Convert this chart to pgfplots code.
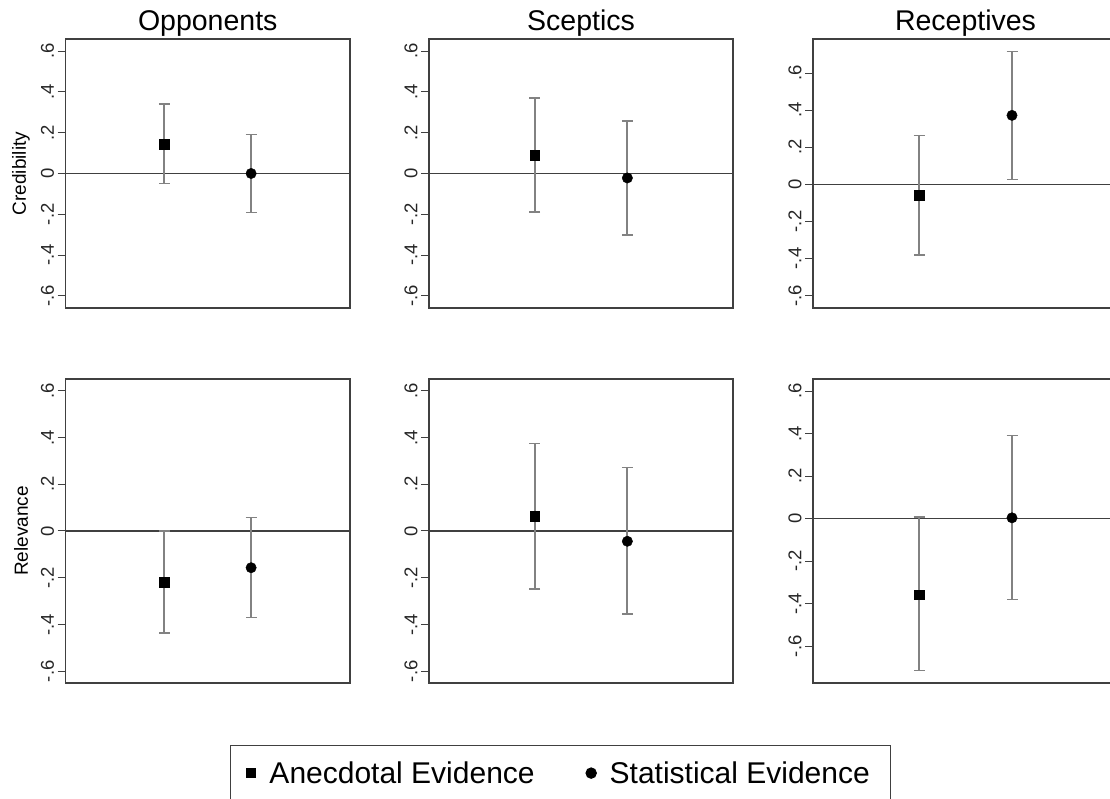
\documentclass[border=0pt]{standalone}
\usepackage{fontspec}
\setmainfont{Liberation Sans}
\usepackage{pgfplots}
\pgfplotsset{compat=1.18}
\definecolor{framec}{RGB}{64,64,64}
\definecolor{barc}{RGB}{130,130,130}

\pgfplotsset{
  panel/.style={
    scale only axis,
    xmin=-0.14, xmax=3.14,
    xtick=\empty,
    ytick={-0.6,-0.4,-0.2,0,0.2,0.4,0.6},
    yticklabels={-.6,-.4,-.2,0,.2,.4,.6},
    ytick pos=left,
    tick align=outside,
    major tick length=8pt,
    tick style={framec, line width=1pt},
    axis line style={framec, line width=1.4pt},
    yticklabel style={font=\fontsize{18.5}{19}\selectfont, rotate=90, anchor=south, text=black!85},
    title style={font=\fontsize{28.5}{30}\selectfont, at={(0.5,1)}, anchor=base, yshift=2.5pt},
    ylabel style={font=\fontsize{19}{20}\selectfont, at={(axis description cs:-0.1564,0.5)}, anchor=center},
  },
  anec/.style={forget plot, only marks, mark=square*, mark size=4.8pt, black,
    error bars/y dir=both, error bars/y explicit,
    error bars/error bar style={barc, line width=1.8pt},
    error bars/error mark options={barc, line width=1.6pt, mark size=5.5pt, rotate=90}},
  stat/.style={forget plot, only marks, mark=*, mark size=5.2pt, black,
    error bars/y dir=both, error bars/y explicit,
    error bars/error bar style={barc, line width=1.8pt},
    error bars/error mark options={barc, line width=1.6pt, mark size=5.5pt, rotate=90}},
  zeroline/.style={framec, line width=1.6pt, forget plot},
}

\begin{document}
\begin{tikzpicture}
\path[use as bounding box] (0,0) rectangle (1110pt,798pt);
\clip (0,0) rectangle (1110pt,798pt);

% Row 1: Credibility
\begin{axis}[panel, at={(65.5pt,759pt)}, anchor=north west, width=284.5pt, height=269pt,
  ymin=-0.66, ymax=0.66, title={Opponents}, ylabel={Credibility}]
\addplot[zeroline] coordinates {(-0.14,0) (3.14,0)};
\addplot[anec] coordinates {(1,0.145) += (0,0.195) -= (0,0.195)};
\addplot[stat] coordinates {(2,0.0) += (0,0.191) -= (0,0.192)};
\end{axis}

\begin{axis}[panel, at={(429pt,759pt)}, anchor=north west, width=304pt, height=269pt,
  ymin=-0.66, ymax=0.66, title={Sceptics}]
\addplot[zeroline] coordinates {(-0.14,0) (3.14,0)};
\addplot[anec] coordinates {(1,0.09) += (0,0.281) -= (0,0.278)};
\addplot[stat] coordinates {(2,-0.022) += (0,0.280) -= (0,0.281)};
\end{axis}

\begin{axis}[panel, at={(813pt,759pt)}, anchor=north west, width=305pt, height=269pt,
  ymin=-0.667, ymax=0.784, title={Receptives}]
\addplot[zeroline] coordinates {(-0.14,0) (3.14,0)};
\addplot[anec] coordinates {(1,-0.06) += (0,0.323) -= (0,0.322)};
\addplot[stat] coordinates {(2,0.372) += (0,0.345) -= (0,0.345)};
\end{axis}

% Row 2: Relevance
\begin{axis}[panel, at={(65.5pt,419pt)}, anchor=north west, width=284.5pt, height=304pt,
  ymin=-0.65, ymax=0.65, ylabel={Relevance}]
\addplot[zeroline] coordinates {(-0.14,0) (3.14,0)};
\addplot[anec] coordinates {(1,-0.218) += (0,0.218) -= (0,0.217)};
\addplot[stat] coordinates {(2,-0.157) += (0,0.214) -= (0,0.213)};
\end{axis}

\begin{axis}[panel, at={(429pt,419pt)}, anchor=north west, width=304pt, height=304pt,
  ymin=-0.65, ymax=0.65,
  legend columns=2,
  legend style={at={(-0.6546,-0.2039)}, anchor=north west, draw=framec, line width=1pt,
    font=\fontsize{30}{31}\selectfont, inner xsep=12pt, inner ysep=14pt,
    /tikz/every even column/.append style={column sep=46pt}},
  legend image code/.code={\path (-8pt,0pt) (16pt,0pt); \draw[#1] plot coordinates {(0pt,0pt)};}]
\addplot[zeroline] coordinates {(-0.14,0) (3.14,0)};
\addplot[anec] coordinates {(1,0.063) += (0,0.312) -= (0,0.312)};
\addplot[stat] coordinates {(2,-0.044) += (0,0.315) -= (0,0.312)};
\addlegendimage{only marks, mark=square*, mark size=4.8pt, black}
\addlegendentry{Anecdotal Evidence}
\addlegendimage{only marks, mark=*, mark size=5.2pt, black}
\addlegendentry{Statistical Evidence\hspace*{7pt}}
\end{axis}

\begin{axis}[panel, at={(813pt,419pt)}, anchor=north west, width=305pt, height=304pt,
  ymin=-0.773, ymax=0.657]
\addplot[zeroline] coordinates {(-0.14,0) (3.14,0)};
\addplot[anec] coordinates {(1,-0.358) += (0,0.366) -= (0,0.357)};
\addplot[stat] coordinates {(2,0.004) += (0,0.388) -= (0,0.385)};
\end{axis}
\end{tikzpicture}
\end{document}
